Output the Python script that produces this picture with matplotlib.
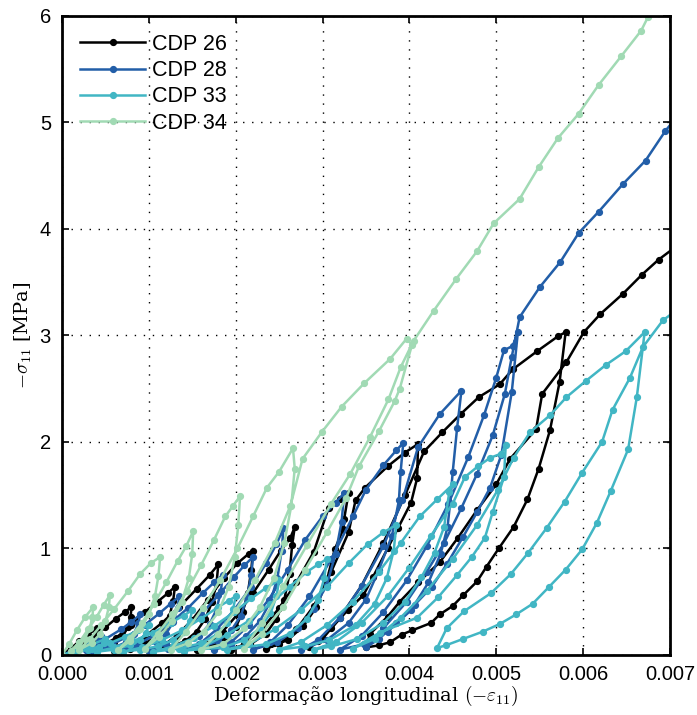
import matplotlib
matplotlib.use('Agg')
import matplotlib.pyplot as plt
import numpy as np

plt.rcParams['font.family'] = ['Liberation Sans', 'DejaVu Sans']
plt.rcParams['mathtext.fontset'] = 'cm'

# (strain x 1e-3, stress MPa) points of each cyclic compression test
cdp26 = [(0, 0), (0.1, 0.06), (0.2, 0.13), (0.3, 0.19), (0.4, 0.25),
         (0.39, 0.2), (0.35, 0.13), (0.28, 0.08), (0.18, 0.05), (0.1, 0.04),
         (0.2, 0.08), (0.35, 0.16), (0.5, 0.26), (0.62, 0.34), (0.72, 0.4), (0.8, 0.45),
         (0.79, 0.36), (0.76, 0.26), (0.7, 0.18), (0.6, 0.12), (0.47, 0.07), (0.3, 0.04),
         (0.45, 0.08), (0.62, 0.16), (0.8, 0.28), (0.95, 0.4), (1.1, 0.5), (1.22, 0.58), (1.3, 0.64),
         (1.28, 0.51), (1.24, 0.37), (1.17, 0.26), (1.07, 0.17), (0.95, 0.1), (0.78, 0.06), (0.6, 0.04),
         (0.75, 0.08), (0.95, 0.17), (1.15, 0.3), (1.35, 0.45), (1.55, 0.62), (1.7, 0.75), (1.8, 0.85),
         (1.78, 0.68), (1.73, 0.5), (1.65, 0.34), (1.55, 0.22), (1.42, 0.13), (1.22, 0.07), (1.0, 0.04),
         (1.15, 0.08), (1.32, 0.18), (1.5, 0.33), (1.68, 0.52), (1.86, 0.72), (2.02, 0.86), (2.15, 0.95), (2.2, 0.98),
         (2.18, 0.8), (2.14, 0.58), (2.08, 0.4), (2.0, 0.26), (1.88, 0.15), (1.72, 0.08), (1.55, 0.05),
         (1.68, 0.1), (1.85, 0.22), (2.02, 0.38), (2.2, 0.58), (2.38, 0.8), (2.52, 0.98), (2.63, 1.1), (2.68, 1.2),
         (2.65, 1.03), (2.62, 0.76), (2.56, 0.52), (2.47, 0.34), (2.35, 0.2), (2.17, 0.1), (1.95, 0.05),
         (2.1, 0.1), (2.3, 0.24), (2.5, 0.44), (2.7, 0.68), (2.9, 0.97), (3.07, 1.38), (3.2, 1.46), (3.3, 1.52),
         (3.25, 1.28), (3.24, 1.18), (3.14, 0.99), (3.05, 0.7), (2.93, 0.45), (2.78, 0.27), (2.6, 0.14), (2.35, 0.06),
         (2.5, 0.1), (2.7, 0.24), (2.9, 0.46), (3.1, 0.78), (3.3, 1.15), (3.38, 1.45), (3.49, 1.57), (3.75, 1.77),
         (3.95, 1.9), (4.1, 1.98),
         (4.09, 1.66), (4.02, 1.43), (3.87, 1.19), (3.75, 1.0), (3.58, 0.73), (3.47, 0.56), (3.29, 0.42),
         (3.1, 0.25), (2.95, 0.13), (2.85, 0.07),
         (3.0, 0.15), (3.2, 0.35), (3.45, 0.65), (3.7, 1.05), (3.95, 1.5), (4.17, 1.91), (4.38, 2.09),
         (4.59, 2.26), (4.8, 2.42), (5.04, 2.54), (5.19, 2.68), (5.47, 2.85), (5.71, 2.99), (5.8, 3.03),
         (5.73, 2.56), (5.62, 2.11), (5.49, 1.75), (5.36, 1.46), (5.2, 1.2), (5.03, 1.0), (4.89, 0.83),
         (4.78, 0.69), (4.62, 0.56), (4.5, 0.46), (4.35, 0.38), (4.25, 0.3), (4.03, 0.23), (3.91, 0.19),
         (3.78, 0.12), (3.65, 0.09), (3.5, 0.07),
         (3.55, 0.2), (3.75, 0.36), (3.89, 0.5), (4.1, 0.68), (4.35, 0.87), (4.56, 1.1), (4.78, 1.36),
         (5.0, 1.6), (5.16, 1.84), (5.46, 2.12), (5.53, 2.45), (5.81, 2.75), (6.01, 3.03), (6.2, 3.2),
         (6.46, 3.39), (6.68, 3.57), (6.87, 3.71), (7.05, 3.82)]

cdp28 = [(0, 0), (0.15, 0.05), (0.3, 0.11), (0.45, 0.18),
         (0.43, 0.13), (0.38, 0.08), (0.28, 0.05), (0.12, 0.03),
         (0.3, 0.07), (0.5, 0.15), (0.68, 0.24), (0.8, 0.31), (0.9, 0.38),
         (0.88, 0.3), (0.83, 0.2), (0.74, 0.12), (0.6, 0.07), (0.35, 0.04),
         (0.55, 0.09), (0.75, 0.17), (0.95, 0.28), (1.12, 0.39), (1.25, 0.48), (1.35, 0.55),
         (1.33, 0.44), (1.28, 0.31), (1.2, 0.2), (1.08, 0.12), (0.9, 0.07), (0.65, 0.04),
         (0.85, 0.09), (1.05, 0.18), (1.25, 0.3), (1.45, 0.44), (1.62, 0.58), (1.75, 0.68), (1.85, 0.75),
         (1.83, 0.6), (1.78, 0.43), (1.7, 0.29), (1.58, 0.18), (1.42, 0.1), (1.22, 0.06), (1.0, 0.04),
         (1.2, 0.1), (1.4, 0.22), (1.6, 0.38), (1.8, 0.56), (1.98, 0.73), (2.1, 0.84), (2.2, 0.92),
         (2.18, 0.75), (2.13, 0.54), (2.06, 0.37), (1.95, 0.23), (1.8, 0.13), (1.6, 0.07), (1.4, 0.04),
         (1.58, 0.1), (1.78, 0.24), (1.98, 0.42), (2.18, 0.64), (2.35, 0.86), (2.47, 1.04), (2.55, 1.19),
         (2.53, 0.98), (2.48, 0.72), (2.4, 0.5), (2.28, 0.32), (2.12, 0.18), (1.95, 0.09), (1.75, 0.05),
         (1.95, 0.12), (2.15, 0.28), (2.38, 0.52), (2.6, 0.8), (2.8, 1.08), (3.0, 1.3), (3.15, 1.43), (3.25, 1.52),
         (3.22, 1.25), (3.15, 0.95), (3.05, 0.66), (2.9, 0.43), (2.72, 0.25), (2.48, 0.12), (2.2, 0.05),
         (2.4, 0.12), (2.6, 0.28), (2.85, 0.55), (3.1, 0.9), (3.35, 1.3), (3.5, 1.55), (3.7, 1.78),
         (3.85, 1.92), (3.93, 1.99),
         (3.9, 1.72), (3.88, 1.45), (3.8, 1.12), (3.65, 0.8), (3.5, 0.52), (3.3, 0.3), (3.05, 0.14), (2.75, 0.05),
         (2.95, 0.14), (3.2, 0.35), (3.45, 0.65), (3.7, 1.02), (3.92, 1.45), (4.1, 1.95), (4.35, 2.26), (4.6, 2.48),
         (4.55, 2.13), (4.5, 1.72), (4.47, 1.43), (4.44, 1.2), (4.36, 0.95), (4.22, 0.68), (4.02, 0.42),
         (3.75, 0.22), (3.48, 0.1), (3.2, 0.05),
         (3.45, 0.18), (3.7, 0.4), (3.97, 0.7), (4.2, 1.02), (4.45, 1.42), (4.68, 1.86), (4.86, 2.25),
         (5.0, 2.6), (5.09, 2.86), (5.19, 2.9), (5.25, 3.03),
         (5.18, 2.47), (5.06, 1.88), (4.93, 1.57), (4.78, 1.34), (4.62, 1.11), (4.43, 0.85), (4.26, 0.64),
         (4.06, 0.47), (3.85, 0.3), (3.65, 0.15), (3.5, 0.07),
         (3.7, 0.25), (3.97, 0.5), (4.2, 0.78), (4.4, 1.05), (4.6, 1.38), (4.78, 1.7), (4.96, 2.06),
         (5.1, 2.45), (5.18, 2.8), (5.27, 3.17), (5.5, 3.45), (5.74, 3.69), (5.95, 3.96), (6.18, 4.16),
         (6.46, 4.42), (6.72, 4.64), (6.95, 4.92), (7.05, 5.02)]

cdp33 = [(0, 0), (0.15, 0.04), (0.32, 0.09), (0.5, 0.15),
         (0.48, 0.11), (0.42, 0.07), (0.3, 0.05), (0.15, 0.03),
         (0.35, 0.06), (0.55, 0.11), (0.72, 0.17), (0.88, 0.23), (1.0, 0.28),
         (0.97, 0.21), (0.9, 0.14), (0.78, 0.09), (0.6, 0.05), (0.4, 0.03),
         (0.6, 0.07), (0.82, 0.13), (1.05, 0.21), (1.25, 0.3), (1.4, 0.37), (1.5, 0.42),
         (1.47, 0.32), (1.4, 0.22), (1.28, 0.14), (1.1, 0.08), (0.9, 0.05), (0.7, 0.03),
         (0.92, 0.07), (1.15, 0.14), (1.38, 0.23), (1.6, 0.34), (1.8, 0.45), (1.92, 0.51), (2.0, 0.55),
         (1.97, 0.43), (1.9, 0.3), (1.78, 0.19), (1.6, 0.11), (1.35, 0.06), (1.05, 0.03),
         (1.28, 0.08), (1.52, 0.16), (1.75, 0.27), (1.98, 0.4), (2.18, 0.53), (2.35, 0.63), (2.5, 0.7),
         (2.47, 0.55), (2.4, 0.39), (2.28, 0.25), (2.1, 0.14), (1.85, 0.07), (1.4, 0.04),
         (1.65, 0.09), (1.9, 0.19), (2.15, 0.32), (2.4, 0.48), (2.62, 0.64), (2.82, 0.78), (2.95, 0.85), (3.05, 0.9),
         (3.02, 0.72), (2.95, 0.52), (2.82, 0.34), (2.62, 0.2), (2.35, 0.1), (1.9, 0.05),
         (2.15, 0.1), (2.45, 0.24), (2.75, 0.42), (3.05, 0.64), (3.3, 0.86), (3.52, 1.04), (3.7, 1.15), (3.85, 1.22),
         (3.82, 0.98), (3.74, 0.72), (3.6, 0.48), (3.38, 0.28), (3.08, 0.14), (2.8, 0.08), (2.5, 0.05),
         (2.75, 0.12), (3.05, 0.28), (3.35, 0.5), (3.65, 0.78), (3.9, 1.05), (4.12, 1.3), (4.32, 1.46), (4.5, 1.6),
         (4.46, 1.53), (4.4, 1.2), (4.29, 0.96), (4.14, 0.73), (3.95, 0.5), (3.7, 0.3), (3.4, 0.15),
         (3.1, 0.08), (2.9, 0.05),
         (3.15, 0.12), (3.45, 0.3), (3.75, 0.55), (4.0, 0.82), (4.25, 1.12), (4.5, 1.42), (4.64, 1.67),
         (4.79, 1.77), (4.93, 1.85), (5.06, 1.89), (5.11, 1.97),
         (5.09, 1.67), (4.96, 1.34), (4.87, 1.1), (4.72, 0.92), (4.55, 0.75), (4.33, 0.54), (4.09, 0.35),
         (3.66, 0.21), (3.35, 0.06),
         (3.6, 0.15), (3.9, 0.35), (4.2, 0.6), (4.5, 0.9), (4.78, 1.22), (5.02, 1.55), (5.2, 1.85),
         (5.39, 2.09), (5.62, 2.25), (5.81, 2.42), (6.03, 2.57), (6.26, 2.72), (6.49, 2.85), (6.71, 3.03),
         (6.62, 2.42), (6.52, 1.93), (6.32, 1.54), (6.16, 1.24), (5.99, 0.99), (5.8, 0.8), (5.61, 0.64),
         (5.42, 0.48), (5.23, 0.38), (5.04, 0.29), (4.85, 0.22), (4.62, 0.15), (4.42, 0.09), (4.32, 0.066),
         (4.43, 0.25), (4.63, 0.41), (4.94, 0.58), (5.17, 0.76), (5.37, 0.96), (5.58, 1.19), (5.79, 1.44),
         (5.99, 1.71), (6.22, 2.0), (6.34, 2.3), (6.54, 2.6), (6.69, 2.89), (6.92, 3.14), (7.05, 3.22)]

cdp34 = [(0, 0), (0.08, 0.1), (0.17, 0.23), (0.27, 0.36), (0.36, 0.45),
         (0.35, 0.36), (0.32, 0.25), (0.26, 0.15), (0.18, 0.08), (0.1, 0.04),
         (0.2, 0.12), (0.3, 0.24), (0.4, 0.36), (0.48, 0.47), (0.55, 0.56),
         (0.54, 0.45), (0.5, 0.32), (0.44, 0.2), (0.34, 0.11), (0.2, 0.05),
         (0.32, 0.15), (0.45, 0.28), (0.6, 0.43), (0.76, 0.6), (0.9, 0.76), (1.02, 0.86), (1.13, 0.92),
         (1.11, 0.74), (1.07, 0.55), (1.0, 0.38), (0.9, 0.24), (0.78, 0.13), (0.65, 0.05),
         (0.78, 0.16), (0.92, 0.3), (1.06, 0.48), (1.2, 0.68), (1.33, 0.88), (1.43, 1.02), (1.51, 1.16),
         (1.5, 0.95), (1.46, 0.72), (1.38, 0.5), (1.27, 0.32), (1.12, 0.17), (0.95, 0.06),
         (1.1, 0.2), (1.27, 0.38), (1.44, 0.6), (1.6, 0.84), (1.75, 1.08), (1.88, 1.3), (1.97, 1.4), (2.05, 1.49),
         (2.03, 1.22), (1.99, 0.92), (1.92, 0.64), (1.8, 0.4), (1.63, 0.22), (1.45, 0.11), (1.25, 0.05),
         (1.43, 0.22), (1.62, 0.44), (1.82, 0.7), (2.02, 1.0), (2.2, 1.3), (2.36, 1.57), (2.5, 1.72), (2.66, 1.94),
         (2.68, 1.75), (2.64, 1.4), (2.56, 1.05), (2.44, 0.72), (2.28, 0.45), (2.1, 0.25), (1.85, 0.1), (1.6, 0.05),
         (1.8, 0.2), (2.0, 0.42), (2.22, 0.7), (2.45, 1.05), (2.63, 1.4), (2.77, 1.84), (2.99, 2.09),
         (3.22, 2.33), (3.48, 2.55), (3.78, 2.78), (3.97, 2.97),
         (4.03, 2.91), (3.89, 2.5), (3.83, 2.38), (3.65, 2.1), (3.42, 1.77), (3.27, 1.47), (3.05, 1.15),
         (2.8, 0.8), (2.55, 0.45), (2.3, 0.2), (2.1, 0.06),
         (2.3, 0.3), (2.55, 0.65), (2.82, 1.03), (3.1, 1.42), (3.32, 1.7), (3.55, 2.05), (3.76, 2.4),
         (3.9, 2.7), (4.05, 2.95), (4.28, 3.23), (4.54, 3.53), (4.78, 3.79), (4.97, 4.05), (5.27, 4.28),
         (5.49, 4.58), (5.71, 4.85), (5.95, 5.08), (6.18, 5.35), (6.44, 5.62), (6.67, 5.86), (6.75, 5.99),
         (6.85, 6.12)]

series = [("CDP 26", cdp26, "#000000"),
          ("CDP 28", cdp28, "#225ea8"),
          ("CDP 33", cdp33, "#41b6c4"),
          ("CDP 34", cdp34, "#a1dab4")]

fig = plt.figure(figsize=(6.97, 7.15), dpi=100)
ax = fig.add_axes([0.089, 0.084, 0.872, 0.894])

for name, pts, color in series:
    pts = np.array(pts)
    ax.plot(pts[:, 0] * 1e-3, pts[:, 1], '-o', color=color, lw=1.8,
            ms=4.2, mec=color, mfc=color, label=name)

xticks = np.arange(0, 0.0071, 0.001)
ax.set_xlim(0, 0.007)
ax.set_ylim(0, 6)
ax.set_xticks(xticks)
ax.set_xticklabels([f"{v:.3f}" for v in xticks])
ax.set_yticks(range(7))

tick_font = ['Liberation Sans Narrow', 'Liberation Sans']
for lbl in ax.get_xticklabels() + ax.get_yticklabels():
    lbl.set_family(tick_font)
    lbl.set_fontsize(14.5)

ax.grid(True, color='black', linestyle=(0, (1, 5.5)), linewidth=1.0)
ax.tick_params(direction='in', top=True, right=True, length=5, width=1.2)
ax.tick_params(axis='x', pad=7)
ax.tick_params(axis='y', pad=8)
for sp in ax.spines.values():
    sp.set_linewidth(2)

ax.set_xlabel("Deformação longitudinal $(-\\varepsilon_{11})$",
              family=['DejaVu Serif'], fontsize=14, labelpad=0)
ax.set_ylabel("$-\\sigma_{11}$ [MPa]", family=['DejaVu Serif'], fontsize=14,
              labelpad=4)

ax.legend(loc='upper left', frameon=False, fontsize=15.5, numpoints=1,
          handlelength=3.0, labelspacing=0.24, borderaxespad=0.55,
          handletextpad=0.35, borderpad=0.3)

plt.savefig("out.png", dpi=100)
